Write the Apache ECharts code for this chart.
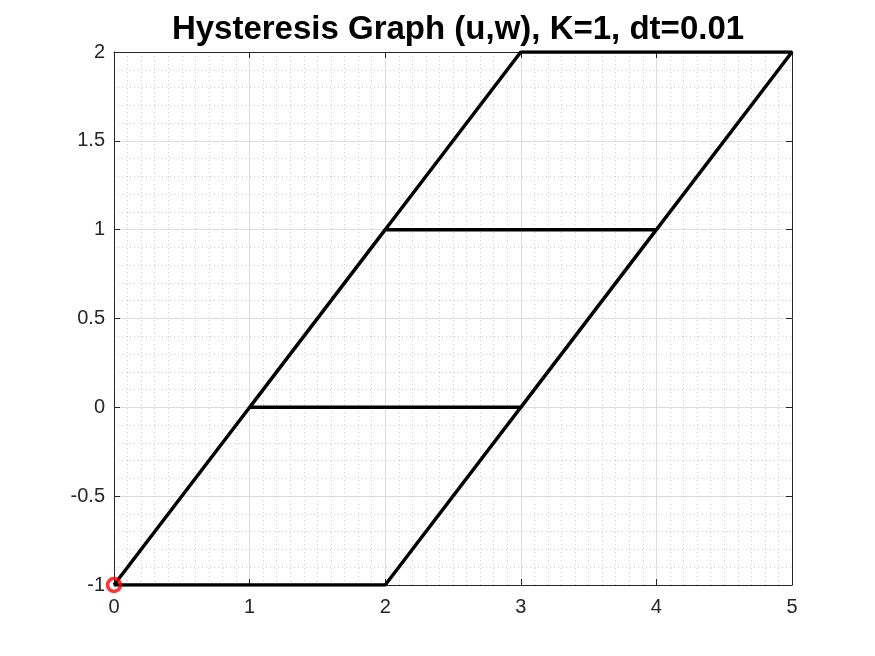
<!DOCTYPE html>
<html><head><meta charset="utf-8">
<script src="https://cdn.jsdelivr.net/npm/echarts@6/dist/echarts.min.js"></script>
<style>html,body{margin:0;padding:0;background:#fff}#c{width:875px;height:656px}</style>
</head><body><div id="c"></div>
<script>
const titleText = 'Hysteresis Graph (u,w), K=1, dt=0.01';
const uPath = [0, 2, 4, 2, 1, 3, 5, 3, 0];
const wPath = [-1, -1, 1, 1, 0, 0, 2, 2, -1];
const startU = 0, startW = -1;
const xTicks = [0, 1, 2, 3, 4, 5];
const yTicks = [-1, -0.5, 0, 0.5, 1, 1.5, 2];

const chart = echarts.init(document.getElementById('c'));
const fam = '"Liberation Sans", Arial, sans-serif';
const axisCommon = {
  type: 'value',
  axisLine: {show: true, onZero: false, lineStyle: {color: '#262626', width: 1}},
  axisTick: {show: true, inside: true, length: 6, lineStyle: {color: '#262626'}},
  minorTick: {show: false},
  axisLabel: {color: '#262626', fontSize: 20, fontFamily: fam},
};
chart.setOption({
  animation: false,
  backgroundColor: '#fff',
  title: {text: titleText, left: 453, top: 8, textAlign: 'center',
    textStyle: {fontSize: 33, fontWeight: 'bold', color: '#000', fontFamily: fam}},
  grid: {left: 114, right: 83, top: 52, bottom: 71, containLabel: false},
  xAxis: [
    Object.assign({}, axisCommon, {min: 0, max: 5, interval: 1, position: 'bottom',
      axisLabel: Object.assign({}, axisCommon.axisLabel, {margin: 12, formatter: v => xTicks.includes(v) ? String(v) : ''}),
      splitLine: {show: true, lineStyle: {color: '#dcdcdc', width: 1}},
      minorSplitLine: {show: true, lineStyle: {color: '#d0d0d0', width: 1, type: [1, 3]}},
      minorTick: {show: false, splitNumber: 10}}),
    Object.assign({}, axisCommon, {min: 0, max: 5, interval: 1, position: 'top',
      axisLabel: {show: false}, splitLine: {show: false}})
  ],
  yAxis: [
    Object.assign({}, axisCommon, {min: -1, max: 2, interval: 0.5, position: 'left',
      axisLabel: Object.assign({}, axisCommon.axisLabel, {margin: 9, formatter: v => String(v)}),
      splitLine: {show: true, lineStyle: {color: '#dcdcdc', width: 1}},
      minorSplitLine: {show: true, lineStyle: {color: '#d0d0d0', width: 1, type: [1, 3]}},
      minorTick: {show: false, splitNumber: 5}}),
    Object.assign({}, axisCommon, {min: -1, max: 2, interval: 0.5, position: 'right',
      axisLabel: {show: false}, splitLine: {show: false}})
  ],
  series: [
    {type: 'line', data: uPath.map((u, i) => [u, wPath[i]]), showSymbol: false, symbol: 'none',
      lineStyle: {color: '#000', width: 3.5}, z: 3},
    {type: 'scatter', data: [[startU, startW]], symbol: 'circle', symbolSize: 13,
      itemStyle: {color: 'rgba(0,0,0,0)', borderColor: '#ff0000', borderWidth: 3.5}, z: 4}
  ]
});
</script></body></html>
